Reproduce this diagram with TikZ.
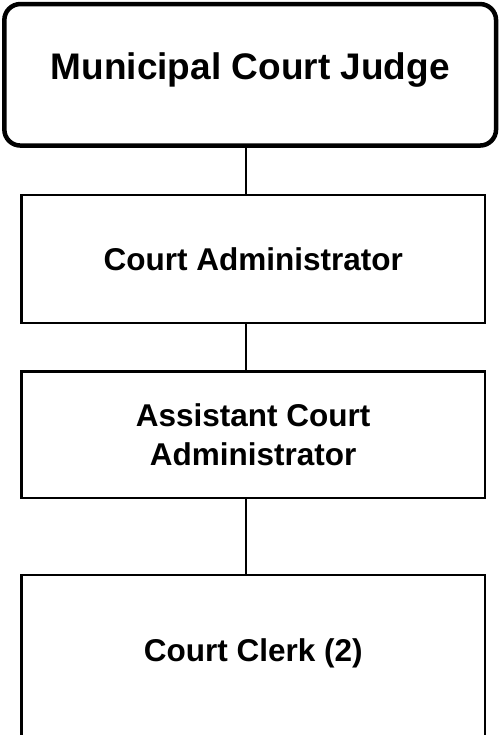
\documentclass[tikz,border=0pt]{standalone}
\usepackage{fontspec}
\setmainfont{Liberation Sans}
\usetikzlibrary{positioning}

\begin{document}
\begin{tikzpicture}[x=1pt,y=1pt,
        judgebox/.style={draw, line width=4.5pt, rounded corners=16pt, outer sep=0pt,
            minimum width=491.7pt, minimum height=141.5pt,
            font=\fontsize{37}{44}\selectfont\bfseries, text height=27pt, text depth=18.5pt},
        unitbox/.style={draw, line width=2.6pt, outer sep=0pt, inner sep=0pt,
            minimum width=463.5pt, align=center,
            font=\fontsize{31.5}{39}\selectfont\bfseries},
        link/.style={line width=1.3pt}]
    \useasboundingbox (0,-735) rectangle (502,0);
    \node[judgebox] (judge) at (250.2,-74.8) {Municipal Court Judge};
    \node[unitbox, minimum height=128pt, below=49.5pt of judge, xshift=3pt] (admin) {Court Administrator};
    \node[unitbox, minimum height=126.7pt, below=48.3pt of admin] (asst) {Assistant Court\\Administrator};
    \node[unitbox, minimum height=170pt, text height=24pt, text depth=22pt, below=77pt of asst] (clerk) {Court Clerk (2)};
    % reporting lines
    \coordinate (spine) at (246,0);
    \foreach \a/\b in {judge/admin, admin/asst, asst/clerk}
        \draw[link] (\a.south -| spine) -- (\b.north -| spine);
\end{tikzpicture}
\end{document}
